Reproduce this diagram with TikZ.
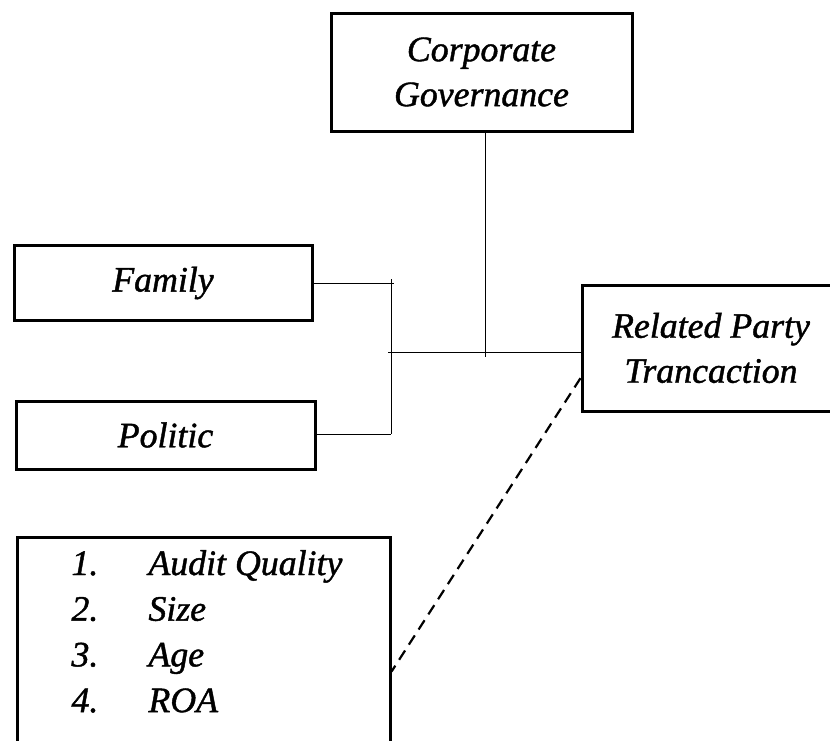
\documentclass[tikz,border=0pt]{standalone}
\usepackage{fontspec}
\setmainfont{Liberation Serif}[ItalicFeatures={FakeBold=1.2}]
\usepackage{tikz}

\begin{document}
\begin{tikzpicture}[x=0.5pt,y=-0.5pt,line width=1.5pt,
  box/.style={draw,inner sep=0pt,align=center,font=\fontsize{17.9}{22.5}\selectfont\itshape},
  wire/.style={line width=0.5pt}]
\useasboundingbox (0,0) rectangle (830,740);
\clip (0,0) rectangle (830,740);
\node[box,minimum width=150.5pt,minimum height=59pt] (cg) at (481.5,72) {Corporate\\Governance};
\node[box,minimum width=149pt,minimum height=37.5pt] (family) at (163,283) {Family};
\node[box,minimum width=149.5pt,minimum height=34pt] (politic) at (165.5,435) {Politic};
\node[box,minimum width=129pt,minimum height=63pt] (rpt) at (711,348) {Related Party\\Trancaction};
\node[box,minimum width=186.5pt,minimum height=111.5pt] (ctrl) at (203.5,648.5) {};
\node[anchor=base west,inner sep=0pt,font=\fontsize{17.9}{22.85}\selectfont\itshape] (ctrllist) at (70,575)
  {\begin{tabular}[t]{@{}p{38.5pt}@{}l@{}}1. & Audit Quality\\ 2. & Size\\ 3. & Age\\ 4. & ROA\end{tabular}};
\coordinate (famj) at (394,283);
\coordinate (poj) at (391,434);
\coordinate (jtop) at (391,279);
\coordinate (mid) at (388,352);
\coordinate (cgj) at (485,357);
\draw[wire] (family.east) -- (famj);
\draw[wire] (politic.east |- poj) -- (poj);
\draw[wire] (jtop) -- (poj);
\draw[wire] (mid) -- (mid -| rpt.west);
\draw[wire] (cgj |- cg.south) -- (cgj);
\draw[line width=1.1pt,dash pattern=on 5.5pt off 3.5pt] (rpt.193) -- (ctrl.353);
\end{tikzpicture}
\end{document}
